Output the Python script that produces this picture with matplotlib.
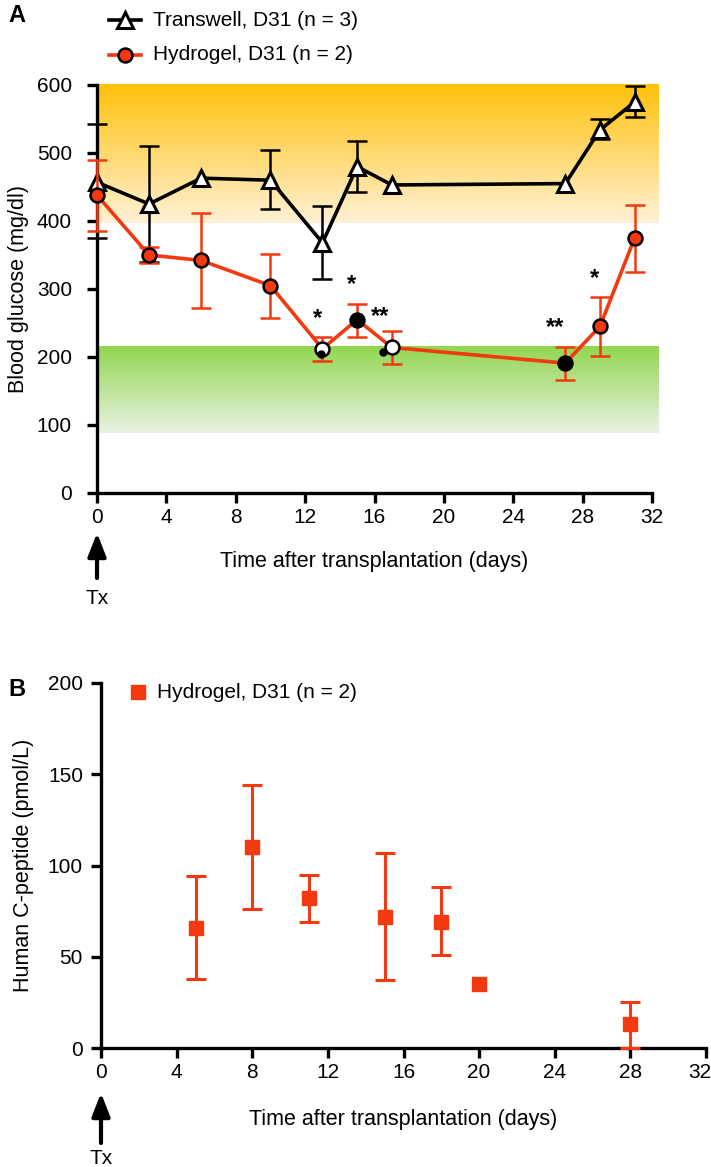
import numpy as np
import matplotlib
matplotlib.use("Agg")
import matplotlib.pyplot as plt
import matplotlib.transforms as mtransforms
from matplotlib.colors import LinearSegmentedColormap
from matplotlib.patches import FancyArrowPatch

plt.rcParams['font.family'] = ['Liberation Sans', 'DejaVu Sans']

# ---------------- data ----------------
tw_days = [0, 3, 6, 10, 13, 15, 17, 27, 29, 31]
tw_mean = [457, 425, 463, 460, 368, 480, 453, 455, 534, 575]
tw_lo   = [375, 340, 463, 418, 315, 443, 453, 455, 521, 553]
tw_hi   = [543, 510, 463, 505, 422, 518, 453, 455, 550, 598]

hg_days = [0, 3, 6, 10, 13, 15, 17, 27, 29, 31]
hg_mean = [438, 350, 342, 305, 212, 255, 214, 191, 245, 375]
hg_lo   = [385, 338, 272, 258, 194, 229, 190, 166, 201, 325]
hg_hi   = [490, 362, 412, 352, 229, 278, 238, 215, 288, 424]

star_x = [12.7, 14.7, 16.3, 26.4, 28.7]
star_y = [240, 290, 242, 226, 299]
star_txt = ['*', '*', '**', '**', '*']

cp_days = [5, 8, 11, 15, 18, 20, 28]
cp_mean = [66, 110, 82, 72, 69, 35, 13]
cp_lo   = [38, 76, 69, 37, 51, 35, 0]
cp_hi   = [94, 144, 95, 107, 88, 35, 25]

xticks = [0, 4, 8, 12, 16, 20, 24, 28, 32]
yticksA = [0, 100, 200, 300, 400, 500, 600]
yticksB = [0, 50, 100, 150, 200]

RED = '#F2390F'
W, H = 711, 1167

fig = plt.figure(figsize=(W / 100, H / 100), dpi=100)

def ax_rect(l, r, t, b):
    return [l / W, 1 - b / H, (r - l) / W, (b - t) / H]

def style_axes(ax):
    for s in ['top', 'right']:
        ax.spines[s].set_visible(False)
    for s in ['left', 'bottom']:
        ax.spines[s].set_linewidth(2.4)
    ax.tick_params(direction='out', length=7, width=2.4, labelsize=15, pad=4)

def tx_arrow(x, tip, base):
    fig.add_artist(FancyArrowPatch(
        (x / W, 1 - base / H), (x / W, 1 - tip / H), transform=fig.transFigure,
        arrowstyle='-|>,head_length=14,head_width=5.5', lw=3.0, color='black',
        shrinkA=0, shrinkB=0))

def errbars(ax, xs, m, lo, hi, color, lw, z):
    keep = [i for i in range(len(xs)) if lo[i] != hi[i]]
    xk = [xs[i] for i in keep]
    mk = np.array([m[i] for i in keep])
    lk = np.array([lo[i] for i in keep])
    hk = np.array([hi[i] for i in keep])
    ax.errorbar(xk, mk, yerr=[mk - lk, hk - mk], fmt='none', ecolor=color,
                elinewidth=lw, capsize=7, capthick=lw, clip_on=False, zorder=z)

# ---------------- Panel A ----------------
axA = fig.add_axes(ax_rect(97, 652, 85, 493))
style_axes(axA)
axA.tick_params(axis='y', pad=11)

orange = LinearSegmentedColormap.from_list('o', ['#FFF1D6', '#FFC10A'])
green = LinearSegmentedColormap.from_list('g', ['#E9F2E4', '#92D650'])
grad = np.linspace(0, 1, 256).reshape(-1, 1)
axA.imshow(grad, cmap=orange, origin='lower', aspect='auto',
           extent=(0, 32.4, 397, 600), clip_on=False, zorder=0)
axA.imshow(grad, cmap=green, origin='lower', aspect='auto',
           extent=(0, 32.4, 88, 215), clip_on=False, zorder=0)
axA.set_xlim(0, 32)
axA.set_ylim(0, 600)

errbars(axA, tw_days, tw_mean, tw_lo, tw_hi, 'black', 1.8, 3)
axA.plot(tw_days, tw_mean, color='black', lw=2.6, zorder=4, clip_on=False)
axA.plot(tw_days, tw_mean, ls='none', marker='^', ms=11, mfc='white',
         mec='black', mew=2.2, zorder=5, clip_on=False)

errbars(axA, hg_days, hg_mean, hg_lo, hg_hi, RED, 1.8, 6)
axA.plot(hg_days, hg_mean, color=RED, lw=2.6, zorder=7, clip_on=False)
faces = [RED, RED, RED, RED, 'white', 'black', 'white', 'black', RED, RED]
for d, m, fc in zip(hg_days, hg_mean, faces):
    axA.plot([d], [m], ls='none', marker='o', ms=10, mfc=fc, mec='black',
             mew=1.8, zorder=8, clip_on=False)
# small dark blobs
axA.plot([12.9, 16.5], [204, 208], ls='none', marker='o', ms=5, mfc='black',
         mec='black', zorder=9)

for x, y, t in zip(star_x, star_y, star_txt):
    axA.text(x, y, t, ha='center', va='bottom', fontsize=17, fontweight='bold')

axA.set_xticks(xticks)
axA.set_yticks(yticksA)
axA.set_ylabel('Blood glucose (mg/dl)', fontsize=15.5, labelpad=6)
axA.set_xlabel('Time after transplantation (days)', fontsize=15.5, labelpad=17)

# legend A (manual)
lx, ly1, ly2 = 125, 20, 55
fig.lines.append(plt.Line2D([(lx - 16) / W, (lx + 16) / W], [1 - ly1 / H] * 2,
                            color='black', lw=2.6, transform=fig.transFigure))
fig.lines.append(plt.Line2D([lx / W], [1 - ly1 / H], ls='none', marker='^', ms=11,
                            mfc='white', mec='black', mew=2.2, transform=fig.transFigure))
fig.lines.append(plt.Line2D([(lx - 16) / W, (lx + 16) / W], [1 - ly2 / H] * 2,
                            color=RED, lw=2.6, transform=fig.transFigure))
fig.lines.append(plt.Line2D([lx / W], [1 - ly2 / H], ls='none', marker='o', ms=10,
                            mfc=RED, mec='black', mew=1.8, transform=fig.transFigure))
fig.text(153 / W, 1 - ly1 / H, 'Transwell, D31 (n = 3)', fontsize=15, va='center')
fig.text(153 / W, 1 - ly2 / H, 'Hydrogel, D31 (n = 2)', fontsize=15, va='center')
fig.text(8 / W, 1 - 15 / H, 'A', fontsize=17, fontweight='bold', va='center')

tx_arrow(97, 533, 578)
fig.text(97 / W, 1 - 598 / H, 'Tx', fontsize=15, ha='center', va='center')

# ---------------- Panel B ----------------
axB = fig.add_axes(ax_rect(101, 706, 683, 1048))
style_axes(axB)
axB.tick_params(axis='y', pad=6)
axB.set_xlim(0, 32)
axB.set_ylim(0, 200)
errbars(axB, cp_days, cp_mean, cp_lo, cp_hi, RED, 2.2, 4)
axB.plot(cp_days, cp_mean, ls='none', marker='s', ms=10, color=RED,
         clip_on=False, zorder=5)
axB.set_xticks(xticks)
axB.set_yticks(yticksB)
axB.set_ylabel('Human C-peptide (pmol/L)', fontsize=15.5, labelpad=10)
axB.set_xlabel('Time after transplantation (days)', fontsize=15.5, labelpad=19)
last = axB.get_xticklabels()[-1]
last.set_transform(last.get_transform() +
                   mtransforms.ScaledTranslation(-6 / 100, 0, fig.dpi_scale_trans))

fig.lines.append(plt.Line2D([138 / W], [1 - 692 / H], ls='none', marker='s', ms=10,
                            color=RED, transform=fig.transFigure))
fig.text(157 / W, 1 - 692 / H, 'Hydrogel, D31 (n = 2)', fontsize=15, va='center')
fig.text(8 / W, 1 - 690 / H, 'B', fontsize=17, fontweight='bold', va='center')

tx_arrow(101, 1093, 1143)
fig.text(101 / W, 1 - 1158 / H, 'Tx', fontsize=15, ha='center', va='center')

fig.savefig('out.png', dpi=100)
